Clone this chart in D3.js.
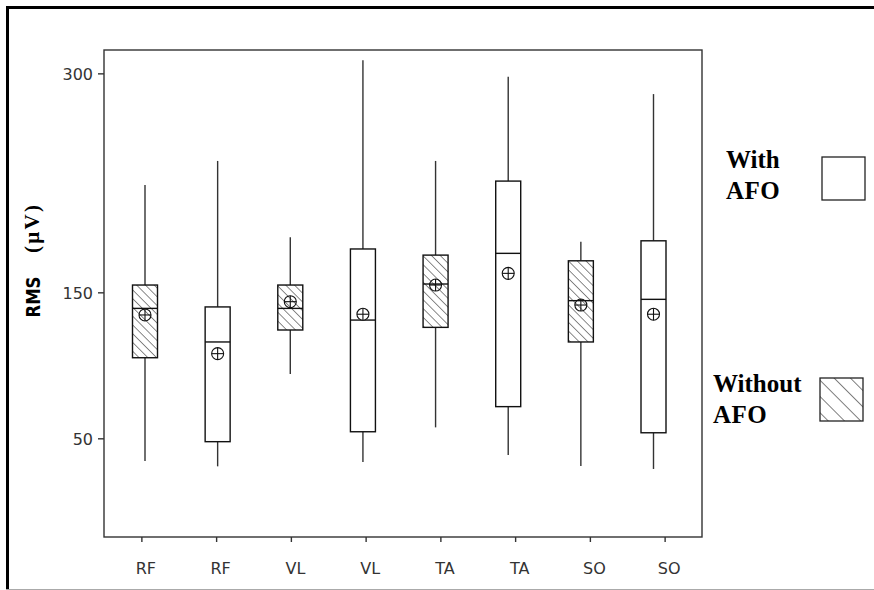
<!DOCTYPE html>
<html>
<head>
<meta charset="utf-8">
<script src="https://cdn.jsdelivr.net/npm/d3@7"></script>
<style>
  html, body { margin: 0; padding: 0; background: #fff; }
  svg { display: block; }
</style>
</head>
<body>
<svg id="chart" width="874" height="590"></svg>
<script>
// ---------- data ----------
const categories  = ["RF", "RF", "VL", "VL", "TA", "TA", "SO", "SO"];
const conditions  = ["Without AFO", "With AFO", "Without AFO", "With AFO", "Without AFO", "With AFO", "Without AFO", "With AFO"];
const whiskerLow  = [34.5, 30.8, 94, 33.8, 57.5, 38.6, 31, 29];
const q1          = [105.2, 47.7, 124.2, 54.5, 126, 71.7, 116, 53.8];
const medians     = [139, 116, 139, 131, 155.7, 176.7, 144.3, 145.2];
const q3          = [155, 140, 155, 179.7, 175.5, 226.2, 171.6, 185.3];
const whiskerHigh = [223.5, 240, 187.7, 308.9, 240, 297.7, 184.7, 285.8];
const means       = [134.5, 108, 143.6, 135, 155, 163, 141.3, 135];
const yTicks      = [50, 150, 300];
const legendItems = [["With", "AFO"], ["Without", "AFO"]];
const legendConds = ["With AFO", "Without AFO"];

// ---------- layout ----------
const svg = d3.select("#chart");
const plot = { left: 104, top: 50, right: 702, bottom: 537 };
const ink = "#2b2b2b";

const idx = d3.range(categories.length);
const y = d3.scaleLinear().domain([-17.6, 316]).range([plot.bottom, plot.top]);
const xAxisScale = d3.scalePoint().domain(idx).range([plot.left, plot.right]).padding(0.5);
const xBox = d3.scalePoint().domain(idx).range([145, 653.5]);
const boxW = 25;

// patterns
const defs = svg.append("defs");
function hatch(id, gap, sw) {
  const p = defs.append("pattern").attr("id", id)
    .attr("patternUnits", "userSpaceOnUse")
    .attr("width", gap).attr("height", gap)
    .attr("patternTransform", "rotate(-45)");
  p.append("rect").attr("width", gap).attr("height", gap).attr("fill", "#fff");
  p.append("line").attr("x1", 0).attr("y1", 0).attr("x2", 0).attr("y2", gap)
    .attr("stroke", ink).attr("stroke-width", sw);
}
hatch("hatch", 6.2, 1.1);
hatch("hatchLegend", 11.5, 1.2);

// outer frame
svg.append("line").attr("x1", 6).attr("x2", 874).attr("y1", 7.5).attr("y2", 7.5)
  .attr("stroke", "#000").attr("stroke-width", 3);
svg.append("line").attr("x1", 7.5).attr("x2", 7.5).attr("y1", 6).attr("y2", 590)
  .attr("stroke", "#000").attr("stroke-width", 3);
svg.append("line").attr("x1", 6).attr("x2", 874).attr("y1", 589.5).attr("y2", 589.5)
  .attr("stroke", "#aaa").attr("stroke-width", 1);

// plot frame
svg.append("rect").attr("x", plot.left).attr("y", plot.top)
  .attr("width", plot.right - plot.left).attr("height", plot.bottom - plot.top)
  .attr("fill", "none").attr("stroke", "#333").attr("stroke-width", 1.4);

// y axis
const yAxis = svg.append("g").attr("transform", `translate(${plot.left},0)`)
  .call(d3.axisLeft(y).tickValues(yTicks).tickSize(6).tickPadding(5).tickSizeOuter(0));
yAxis.select(".domain").remove();
yAxis.selectAll(".tick line").attr("stroke", "#333").attr("stroke-width", 1.4);
yAxis.selectAll(".tick text").attr("font-family", "DejaVu Sans, sans-serif")
  .attr("font-size", 16).attr("fill", "#333").attr("dy", "0.36em");

// x axis
const xAxis = svg.append("g").attr("transform", `translate(0,${plot.bottom})`)
  .call(d3.axisBottom(xAxisScale).tickFormat(i => categories[i]).tickSize(5).tickPadding(21).tickSizeOuter(0));
xAxis.select(".domain").remove();
xAxis.selectAll(".tick line").attr("stroke", "#333").attr("stroke-width", 1.4);
xAxis.selectAll(".tick text").attr("font-family", "DejaVu Sans, sans-serif")
  .attr("font-size", 16).attr("fill", "#333").attr("dx", 4);

// y label (two parts, like the reference)
svg.append("text")
  .attr("transform", "translate(40,297) rotate(-90)")
  .attr("text-anchor", "middle")
  .attr("font-family", "DejaVu Sans, sans-serif").attr("font-weight", "bold")
  .attr("font-size", 19).attr("fill", "#000")
  .attr("textLength", 41).attr("lengthAdjust", "spacingAndGlyphs")
  .text("RMS");
svg.append("text")
  .attr("transform", "translate(39,229) rotate(-90)")
  .attr("text-anchor", "middle")
  .attr("font-family", "Liberation Serif, serif").attr("font-weight", "bold")
  .attr("font-size", 21).attr("fill", "#000")
  .attr("textLength", 48).attr("lengthAdjust", "spacing")
  .text("(μV)");

// boxes
const g = svg.append("g");
idx.forEach(i => {
  const cx = xBox(i);
  const hatched = conditions[i] === "Without AFO";
  g.append("line").attr("x1", cx).attr("x2", cx).attr("y1", y(q3[i])).attr("y2", y(whiskerHigh[i]))
    .attr("stroke", "#333").attr("stroke-width", 1.4);
  g.append("line").attr("x1", cx).attr("x2", cx).attr("y1", y(q1[i])).attr("y2", y(whiskerLow[i]))
    .attr("stroke", "#333").attr("stroke-width", 1.4);
  g.append("rect").attr("x", cx - boxW / 2).attr("y", y(q3[i]))
    .attr("width", boxW).attr("height", y(q1[i]) - y(q3[i]))
    .attr("fill", hatched ? "url(#hatch)" : "#fff")
    .attr("stroke", "#111").attr("stroke-width", 1.4);
  g.append("line").attr("x1", cx - boxW / 2).attr("x2", cx + boxW / 2)
    .attr("y1", y(medians[i])).attr("y2", y(medians[i]))
    .attr("stroke", "#111").attr("stroke-width", 1.4);
  const my = y(means[i]);
  g.append("circle").attr("cx", cx).attr("cy", my).attr("r", 6)
    .attr("fill", hatched ? "none" : "#fff").attr("stroke", "#111").attr("stroke-width", 1.1);
  g.append("line").attr("x1", cx - 6).attr("x2", cx + 6).attr("y1", my).attr("y2", my)
    .attr("stroke", "#111").attr("stroke-width", 1.1);
  g.append("line").attr("x1", cx).attr("x2", cx).attr("y1", my - 6).attr("y2", my + 6)
    .attr("stroke", "#111").attr("stroke-width", 1.1);
});

// legend
const legendPos = [{ tx: 726, ty: 168, bx: 822, by: 157 }, { tx: 713, ty: 392, bx: 820, by: 378 }];
legendItems.forEach((lines, k) => {
  const p = legendPos[k];
  const t = svg.append("text").attr("font-family", "Liberation Serif, Times New Roman, serif")
    .attr("font-weight", "bold").attr("font-size", 25).attr("fill", "#000");
  lines.forEach((s, j) => {
    t.append("tspan").attr("x", p.tx).attr("y", p.ty + j * 31).text(s)
      .attr("letter-spacing", j === 1 ? 0.5 : 0);
  });
  svg.append("rect").attr("x", p.bx).attr("y", p.by).attr("width", 43).attr("height", 43)
    .attr("fill", legendConds[k] === "Without AFO" ? "url(#hatchLegend)" : "#fff")
    .attr("stroke", "#222").attr("stroke-width", 1.3);
});
</script>
</body>
</html>
